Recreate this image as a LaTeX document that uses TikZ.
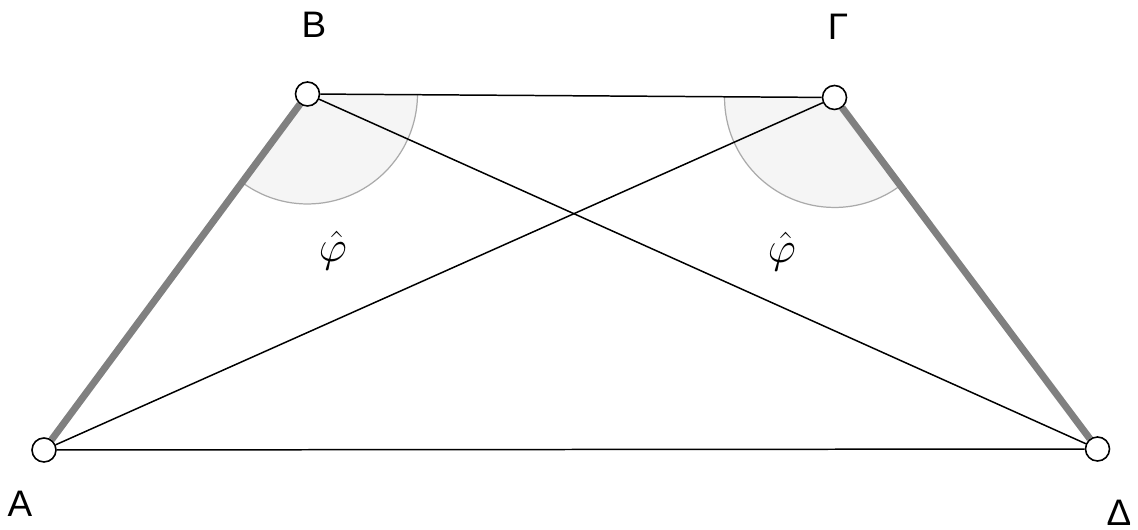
\documentclass[tikz,border=0pt]{standalone}
\usepackage{fontspec}
\setmainfont{Liberation Sans}
\usetikzlibrary{angles,backgrounds}
\tikzset{
  vertex/.style={circle,draw=black,fill=white,line width=0.9pt,inner sep=0pt,minimum size=0.48cm},
  side/.style={line width=0.85pt,black},
  leg/.style={line width=4pt,color={rgb,255:red,128;green,128;blue,128}},
  wedge/.style={draw={rgb,255:red,170;green,170;blue,170},fill={rgb,255:red,245;green,245;blue,245},line width=0.7pt,angle radius=2.2cm},
  vlabel/.style={font=\fontsize{21}{25}\selectfont,inner sep=0pt},
  anglabel/.style={font=\fontsize{24}{28}\selectfont,inner sep=0pt}
}
\begin{document}
\begin{tikzpicture}[x=0.02cm,y=0.02cm]
  \useasboundingbox (0,0) rectangle (1138,530);
  % Vertices of the trapezoid
  \node[vertex] (A) at (44,80) {};
  \node[vertex] (B) at (307.5,436) {};
  \node[vertex] (G) at (834.5,432.5) {};
  \node[vertex] (D) at (1097.5,81) {};
  \begin{scope}[on background layer]
    % Equal angles at the top
    \pic[wedge] {angle = A--B--G};
    \pic[wedge] {angle = B--G--D};
    % Sides and diagonals
    \draw[side] (A) -- (D);
    \draw[side] (B) -- (G);
    \draw[side] (A) -- (G);
    \draw[side] (B) -- (D);
    % Equal legs
    \draw[leg] (A) -- (B);
    \draw[leg] (G) -- (D);
  \end{scope}
  % Labels
  \node[vlabel] (lA) at (20,26) {A};
  \node[vlabel] (lB) at (314,505) {B};
  \node[vlabel] (lG) at (838,503) {Γ};
  \node[vlabel] (lD) at (1119,17) {Δ};
  \node[anglabel] (phiB) at (333,279) {$\hat{\varphi}$};
  \node[anglabel] (phiG) at (782,278) {$\hat{\varphi}$};
\end{tikzpicture}
\end{document}
